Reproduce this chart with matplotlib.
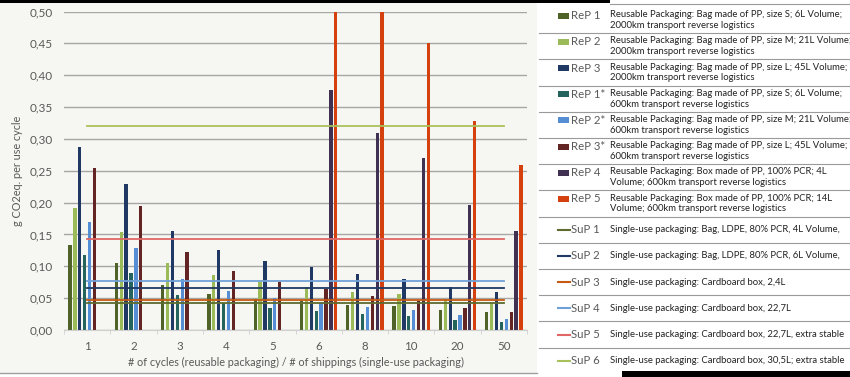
import numpy as np
import matplotlib
matplotlib.use("Agg")
import matplotlib.pyplot as plt
from matplotlib.patches import Rectangle
from matplotlib.lines import Line2D

plt.rcParams['font.family'] = ['Lato', 'DejaVu Sans']

# ---------------- data ----------------
categories = ["1", "2", "3", "4", "5", "6", "8", "10", "20", "50"]
nan = np.nan
rep1 = [0.133, 0.105, 0.071, 0.057, 0.049, 0.045, 0.040, 0.037, 0.031, 0.028]
rep2 = [0.192, 0.154, 0.105, 0.086, 0.076, 0.068, 0.060, 0.056, 0.049, 0.042]
rep3 = [0.288, 0.229, 0.155, 0.125, 0.109, 0.099, 0.088, 0.080, 0.067, 0.060]
rep1s = [0.117, 0.089, 0.055, 0.042, 0.035, 0.030, 0.025, 0.022, 0.015, 0.012]
rep2s = [0.169, 0.129, 0.080, 0.061, 0.050, 0.043, 0.036, 0.031, 0.023, 0.018]
rep3s = [0.254, 0.195, 0.122, 0.092, 0.075, 0.064, 0.054, 0.046, 0.035, 0.028]
rep4 = [nan, nan, nan, nan, nan, 0.377, 0.309, 0.270, 0.197, 0.155]
rep5 = [nan, nan, nan, nan, nan, 0.630, 0.515, 0.451, 0.328, 0.259]

sup1, sup2, sup3, sup4, sup5, sup6 = 0.043, 0.066, 0.047, 0.077, 0.143, 0.320

bar_labels = ["ReP 1", "ReP 2", "ReP 3", "ReP 1*", "ReP 2*", "ReP 3*", "ReP 4", "ReP 5"]
line_labels = ["SuP 1", "SuP 2", "SuP 3", "SuP 4", "SuP 5", "SuP 6"]
bar_desc = [
    "Reusable Packaging: Bag made of PP, size S; 6L Volume;\n2000km transport reverse logistics",
    "Reusable Packaging: Bag made of PP, size M; 21L Volume;\n2000km transport reverse logistics",
    "Reusable Packaging: Bag made of PP, size L; 45L Volume;\n2000km transport reverse logistics",
    "Reusable Packaging: Bag made of PP, size S; 6L Volume;\n600km transport reverse logistics",
    "Reusable Packaging: Bag made of PP, size M; 21L Volume;\n600km transport reverse logistics",
    "Reusable Packaging: Bag made of PP, size L; 45L Volume;\n600km transport reverse logistics",
    "Reusable Packaging: Box made of PP, 100% PCR; 4L\nVolume; 600km transport reverse logistics",
    "Reusable Packaging: Box made of PP, 100% PCR; 14L\nVolume; 600km transport reverse logistics",
]
line_desc = [
    "Single-use packaging: Bag, LDPE, 80% PCR, 4L Volume,",
    "Single-use packaging: Bag, LDPE, 80% PCR, 6L Volume,",
    "Single-use packaging: Cardboard box, 2,4L",
    "Single-use packaging: Cardboard box, 22,7L",
    "Single-use packaging: Cardboard box, 22,7L, extra stable",
    "Single-use packaging: Cardboard box, 30,5L; extra stable",
]
y_ticks = [0.00, 0.05, 0.10, 0.15, 0.20, 0.25, 0.30, 0.35, 0.40, 0.45, 0.50]
y_label = "g CO2eq. per use cycle"
x_label = "# of cycles (reusable packaging) / # of shippings (single-use packaging)"

bar_series = [rep1, rep2, rep3, rep1s, rep2s, rep3s, rep4, rep5]
line_series = [sup1, sup2, sup3, sup4, sup5, sup6]

bar_colors = ["#4f6228", "#9bbb59", "#1f3864", "#25645d", "#558ed5", "#632523", "#403152", "#d4410e"]
line_colors = ["#5d6b2f", "#1f3864", "#c55a11", "#6fa0d8", "#e06666", "#a9c15a"]

# ---------------- figure ----------------
W, H = 850, 377
fig = plt.figure(figsize=(W / 100, H / 100), dpi=100)
fig.patch.set_facecolor("white")

def fx(px):
    return px / W

def fy(py):
    return 1 - py / H

# chart area background
fig.add_artist(Rectangle((0, fy(373)), fx(537), fy(3) - fy(373), transform=fig.transFigure,
                         facecolor="#f6f7f2", edgecolor="none", zorder=0))
fig.add_artist(Line2D([0, fx(537)], [fy(373), fy(373)], transform=fig.transFigure,
                      color="#a0a0a0", lw=1.0, zorder=1))
# black frame artifacts
fig.add_artist(Rectangle((0, fy(3)), fx(610), 3 / H, transform=fig.transFigure,
                         facecolor="black", edgecolor="none", zorder=5))
fig.add_artist(Rectangle((fx(622), 0), fx(850) - fx(622), 6 / H, transform=fig.transFigure,
                         facecolor="black", edgecolor="none", zorder=5))

ax_left, ax_right, ax_top, ax_bot = 64, 527, 11.5, 330
ax = fig.add_axes([fx(ax_left), fy(ax_bot), fx(ax_right) - fx(ax_left), fy(ax_top) - fy(ax_bot)])
ax.set_facecolor("#f6f7f2")

x = np.arange(len(categories))
slot = 0.106
bw = 0.072
for i, (vals, c) in enumerate(zip(bar_series, bar_colors)):
    ax.bar(x + (i - 3.5) * slot, vals, width=bw, color=c, zorder=2)

for vals, c in zip(line_series, line_colors):
    ax.plot([x[0], x[-1]], [vals, vals], color=c, lw=1.3, zorder=3)

ax.set_xlim(-0.5, len(categories) - 0.5)
ax.set_ylim(0, 0.5)
ax.set_yticks(y_ticks)
ax.set_yticklabels([f"{v:.2f}".replace(".", ",") for v in y_ticks])
ax.set_xticks(x)
ax.set_xticklabels(categories)
ax.set_xticks(np.arange(-0.5, len(categories), 1.0), minor=True)
ax.tick_params(axis="x", which="major", length=0, pad=8, labelsize=8.3, labelcolor="#595959")
ax.tick_params(axis="x", which="minor", length=3, color="#d0d0d0", direction="out")
ax.tick_params(axis="y", length=0, pad=8, labelsize=8.5, labelcolor="#595959")
ax.grid(axis="y", color="#a6a6a6", lw=1.0, zorder=1)
ax.set_axisbelow(True)
for s in ["top", "right", "left"]:
    ax.spines[s].set_visible(False)
ax.spines["bottom"].set_color("#d0d0d0")
ax.set_ylabel(y_label, fontsize=7.8, color="#595959", va="center")
ax.yaxis.set_label_coords((18 - ax_left) / (ax_right - ax_left), 0.5)
ax.set_xlabel(x_label, fontsize=7.8, color="#595959", va="center")
ax.xaxis.set_label_coords(0.5, -(362 - ax_bot) / (ax_bot - ax_top))

# ---------------- legend ----------------
row_top = 7
row_h = 26.2
sep_color = "#9a9a9a"
fig.add_artist(Line2D([fx(610), 1], [fy(3.5), fy(3.5)], transform=fig.transFigure, color=sep_color, lw=0.8))
n_rows = len(bar_labels) + len(line_labels)
for r in range(n_rows):
    ybot = row_top + row_h * (r + 1)
    if r < n_rows - 1:
        fig.add_artist(Line2D([fx(539), 1], [fy(ybot), fy(ybot)], transform=fig.transFigure,
                              color=sep_color, lw=0.8))

fs_leg = 6.85
for i, (lab, desc, c) in enumerate(zip(bar_labels, bar_desc, bar_colors)):
    yc = row_top + row_h * i + row_h / 2
    ylab = yc - 4.5
    fig.add_artist(Rectangle((fx(557.5), fy(ylab + 3)), fx(11.5), 6 / H, transform=fig.transFigure,
                             facecolor=c, edgecolor="none"))
    fig.text(fx(571), fy(ylab), lab, fontsize=8.2, color="#595959", va="center", ha="left")
    fig.text(fx(610), fy(yc), desc, fontsize=fs_leg, color="#222222", va="center", ha="left",
             linespacing=1.25)

for j, (lab, desc, c) in enumerate(zip(line_labels, line_desc, line_colors)):
    r = len(bar_labels) + j
    yc = row_top + row_h * r + row_h / 2
    fig.add_artist(Line2D([fx(558), fx(570)], [fy(yc), fy(yc)], transform=fig.transFigure,
                          color=c, lw=1.5))
    fig.text(fx(571), fy(yc), lab, fontsize=8.2, color="#595959", va="center", ha="left")
    fig.text(fx(610), fy(yc), desc, fontsize=fs_leg, color="#222222", va="center", ha="left")

fig.savefig("out.png", dpi=100, facecolor=fig.get_facecolor())
